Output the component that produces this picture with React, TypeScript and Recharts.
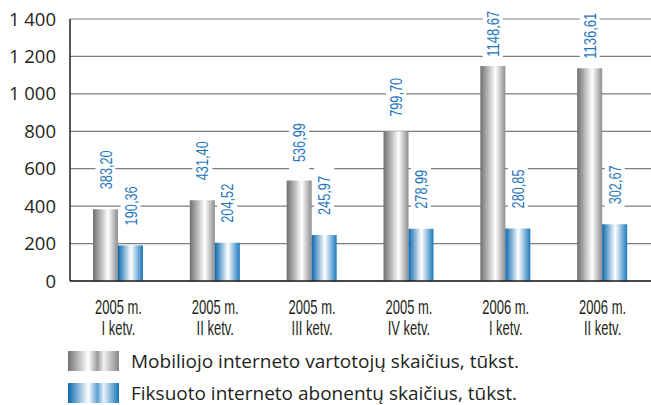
import React from 'react';
import { BarChart, Bar, XAxis, YAxis, CartesianGrid, LabelList } from 'recharts';

const periods = [
  '2005 m.\nI ketv.',
  '2005 m.\nII ketv.',
  '2005 m.\nIII ketv.',
  '2005 m.\nIV ketv.',
  '2006 m.\nI ketv.',
  '2006 m.\nII ketv.',
];
const mobileUsers = [383.2, 431.4, 536.99, 799.7, 1148.67, 1136.61];
const fixedSubscribers = [190.36, 204.52, 245.97, 278.99, 280.85, 302.67];
const yTicks = [0, 200, 400, 600, 800, 1000, 1200, 1400];

const mobileName = 'Mobiliojo interneto vartotojų skaičius, tūkst.';
const fixedName = 'Fiksuoto interneto abonentų skaičius, tūkst.';

const data = periods.map((p, i) => ({
  period: p,
  mobile: mobileUsers[i],
  fixed: fixedSubscribers[i],
}));

// condensed look: Liberation Sans squeezed horizontally
const narrow = '"Liberation Sans", Arial, sans-serif';
const sans = '"Open Sans", sans-serif';
const labelBlue = '#1f76bd';

const fmtThousands = (v: number) => String(v).replace(/\B(?=(\d{3})+(?!\d))/g, ' ');
const fmtDecimal = (v: number) => v.toFixed(2).replace('.', ',');

function PeriodTick({ x, y, payload }: any) {
  const lines = String(payload.value).split('\n');
  return (
    <g transform={`translate(${x} ${y}) scale(0.65 1)`}>
      <text x={0} y={0} textAnchor="middle" fill="#231f20" fontFamily={narrow} fontSize={20}>
        {lines.map((l, i) => (
          <tspan key={i} x={0} dy={i === 0 ? 25 : 21}>
            {l}
          </tspan>
        ))}
      </text>
    </g>
  );
}

function ValueLabel({ x, y, width, value }: any) {
  const text = fmtDecimal(value);
  const cx = x + width / 2;
  // labels sit a bit closer to the tall bars
  const gap = Math.max(9, Math.min(20, 0.08 * y + 4));
  const bottom = y - gap;
  const len = (text.length - 1) * 7.1 + 3.5;
  return (
    <g>
      <rect x={cx - 10} y={bottom - len - 8} width={20} height={len + 16} fill="#fff" />
      <g transform={`translate(${cx} ${bottom}) rotate(-90)`}>
        <text
          x={0}
          y={0}
          dy={6}
          fill={labelBlue}
          fontFamily={narrow}
          fontSize={17}
          textLength={len}
          lengthAdjust="spacingAndGlyphs"
        >
          {text}
        </text>
      </g>
    </g>
  );
}

function Swatch({ id }: { id: string }) {
  return (
    <svg width={51} height={20} style={{ display: 'block' }}>
      <rect width={51} height={20} fill={`url(#${id})`} />
    </svg>
  );
}

export default function App() {
  return (
    <div style={{ position: 'absolute', left: 0, top: 0, width: 651, height: 405, background: '#fff' }}>
      <svg width={0} height={0} style={{ position: 'absolute' }}>
        <defs>
          <linearGradient id="lgGray" x1="0" y1="0" x2="1" y2="0">
            <stop offset="0%" stopColor="#737375" />
            <stop offset="40%" stopColor="#ffffff" />
            <stop offset="58%" stopColor="#9a9a9c" />
            <stop offset="70%" stopColor="#f0f0f0" />
            <stop offset="100%" stopColor="#86868a" />
          </linearGradient>
          <linearGradient id="lgBlue" x1="0" y1="0" x2="1" y2="0">
            <stop offset="0%" stopColor="#0b68ad" />
            <stop offset="40%" stopColor="#ffffff" />
            <stop offset="58%" stopColor="#5b9fd3" />
            <stop offset="70%" stopColor="#e8f2fa" />
            <stop offset="100%" stopColor="#1676bb" />
          </linearGradient>
        </defs>
      </svg>
      <BarChart
        width={651}
        height={345}
        data={data}
        margin={{ top: 19, right: 0, bottom: 14, left: 0 }}
        barCategoryGap={23}
        barGap={0}
      >
        <defs>
          <linearGradient id="gGray" x1="0" y1="0" x2="1" y2="0">
            <stop offset="0%" stopColor="#6f6f72" />
            <stop offset="60%" stopColor="#ffffff" />
            <stop offset="100%" stopColor="#8c8c90" />
          </linearGradient>
          <linearGradient id="gBlue" x1="0" y1="0" x2="1" y2="0">
            <stop offset="0%" stopColor="#0a68ad" />
            <stop offset="52%" stopColor="#ffffff" />
            <stop offset="100%" stopColor="#1a78bd" />
          </linearGradient>
        </defs>
        <CartesianGrid vertical={false} stroke="#7d7d7d" strokeWidth={1.2} />
        <XAxis
          dataKey="period"
          height={50}
          tickLine={false}
          axisLine={{ stroke: '#231f20', strokeWidth: 1.5 }}
          tick={<PeriodTick />}
          interval={0}
        />
        <YAxis
          width={70}
          domain={[0, 1400]}
          ticks={yTicks}
          tickLine={false}
          axisLine={{ stroke: '#231f20', strokeWidth: 1.5 }}
          tickFormatter={fmtThousands}
          tick={{ fill: '#231f20', fontFamily: sans, fontSize: 18.5 }}
          tickMargin={8}
        />
        <Bar dataKey="mobile" fill="url(#gGray)" isAnimationActive={false}>
          <LabelList dataKey="mobile" content={<ValueLabel />} />
        </Bar>
        <Bar dataKey="fixed" fill="url(#gBlue)" isAnimationActive={false}>
          <LabelList dataKey="fixed" content={<ValueLabel />} />
        </Bar>
      </BarChart>
      <div style={{ position: 'absolute', left: 68, top: 351, fontFamily: sans, fontSize: 19, color: '#231f20' }}>
        <div style={{ display: 'flex', alignItems: 'center', height: 20, marginBottom: 12 }}>
          <Swatch id="lgGray" />
          <span style={{ marginLeft: 12 }}>{mobileName}</span>
        </div>
        <div style={{ display: 'flex', alignItems: 'center', height: 20 }}>
          <Swatch id="lgBlue" />
          <span style={{ marginLeft: 12 }}>{fixedName}</span>
        </div>
      </div>
    </div>
  );
}
